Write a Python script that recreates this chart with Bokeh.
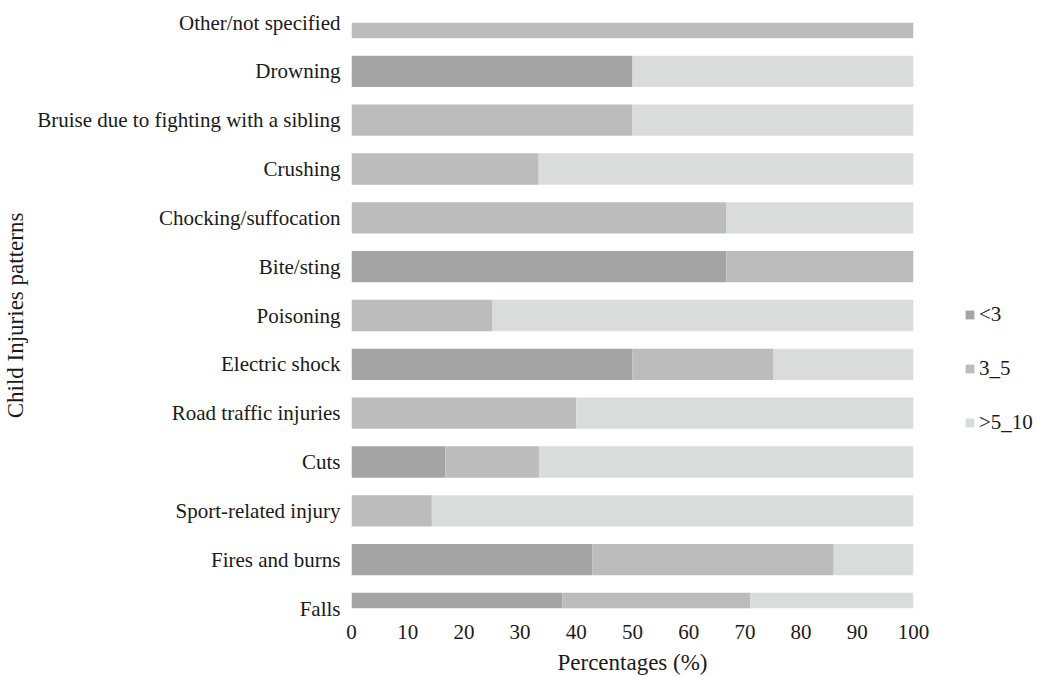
from bokeh.plotting import figure
from bokeh.models import Legend, LegendItem, FixedTicker, Range1d, ColumnDataSource
from bokeh.embed import file_html
from bokeh.resources import INLINE

categories = ["Falls", "Fires and burns", "Sport-related injury", "Cuts",
              "Road traffic injuries", "Electric shock", "Poisoning", "Bite/sting",
              "Chocking/suffocation", "Crushing", "Bruise due to fighting with a sibling",
              "Drowning", "Other/not specified"]
lt3 =    [37.5, 42.9, 0.0, 16.7, 0.0, 50.0, 0.0, 66.7, 0.0, 0.0, 0.0, 50.0, 0.0]
a3_5 =   [33.5, 42.9, 14.3, 16.7, 40.0, 25.0, 25.0, 33.3, 66.7, 33.3, 50.0, 0.0, 100.0]
a5_10 =  [29.0, 14.2, 85.7, 66.6, 60.0, 25.0, 75.0, 0.0, 33.3, 66.7, 50.0, 50.0, 0.0]
series_names = ["<3", "3_5", ">5_10"]
colors = ["#a3a4a3", "#bcbcbc", "#dadbdb"]
x_ticks = [0, 10, 20, 30, 40, 50, 60, 70, 80, 90, 100]

ypos = list(range(len(categories)))
src = ColumnDataSource(dict(y=ypos, lt3=lt3, a3_5=a3_5, a5_10=a5_10))

FONT = "Liberation Serif"
TXT = "#1a1a1a"

p = figure(frame_width=562, frame_height=586, output_backend="svg", toolbar_location=None,
           x_range=Range1d(0, 100), y_range=Range1d(0, len(categories) - 1),
           min_border_top=22, min_border_bottom=0, min_border_left=0, min_border_right=0,
           outline_line_color=None)

rs = p.hbar_stack(["lt3", "a3_5", "a5_10"], y="y", height=0.64, color=colors,
                  line_color=None, source=src)

p.xgrid.visible = False
p.ygrid.visible = False

p.xaxis.ticker = FixedTicker(ticks=x_ticks)
p.xaxis.axis_line_color = None
p.xaxis.major_tick_line_color = None
p.xaxis.minor_tick_line_color = None
p.xaxis.major_label_standoff = 10
p.xaxis.axis_label = "Percentages (%)"
p.xaxis.axis_label_standoff = 8

p.yaxis.ticker = FixedTicker(ticks=ypos)
p.yaxis.major_label_overrides = {i: c for i, c in enumerate(categories)}
p.yaxis.axis_line_color = None
p.yaxis.major_tick_line_color = None
p.yaxis.minor_tick_line_color = None
p.yaxis.major_label_standoff = 5
p.yaxis.axis_label = "Child Injuries patterns"
p.yaxis.axis_label_standoff = 6

for ax in (p.xaxis[0], p.yaxis[0]):
    ax.major_label_text_font = FONT
    ax.major_label_text_font_size = "21px"
    ax.major_label_text_color = TXT
    ax.axis_label_text_font = FONT
    ax.axis_label_text_font_size = "23px"
    ax.axis_label_text_font_style = "normal"
    ax.axis_label_text_color = TXT

legend = Legend(items=[LegendItem(label=n, renderers=[r]) for n, r in zip(series_names, rs)],
                location=(51, 173), border_line_color=None, background_fill_alpha=0,
                glyph_width=11, glyph_height=11, label_height=20, spacing=29,
                label_text_font=FONT, label_text_font_size="21px", label_text_color=TXT,
                label_standoff=4, padding=0, margin=0)
p.add_layout(legend, "right")

open("out.html", "w").write(file_html(p, INLINE))
